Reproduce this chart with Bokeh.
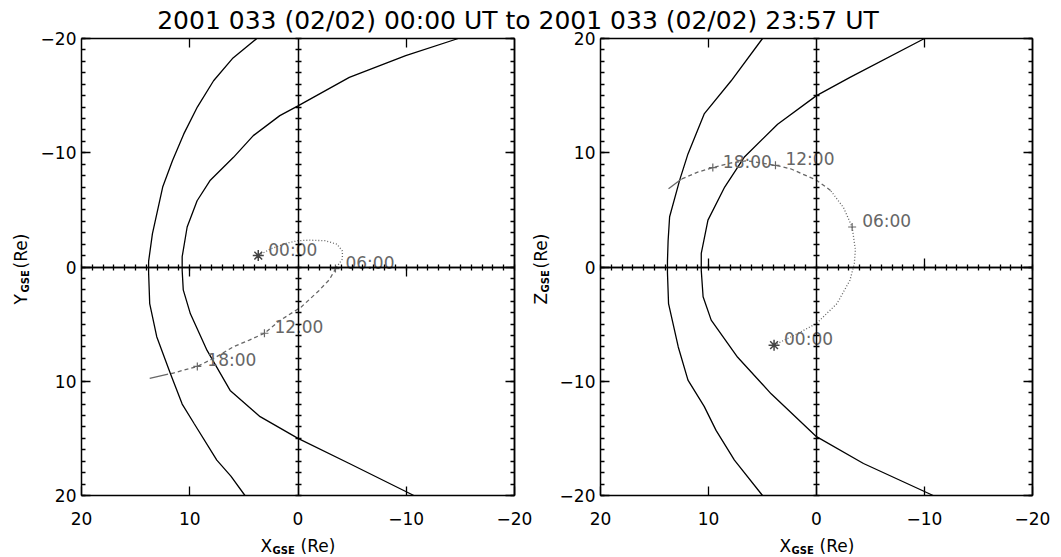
import numpy as np
from bokeh.plotting import figure
from bokeh.models import Range1d, LinearAxis, FixedTicker, Label
from bokeh.layouts import row
from bokeh.core.properties import value
from bokeh.embed import file_html
from bokeh.resources import INLINE

FONT = "DejaVu Sans"
GREY = "#666666"

title_left = "2001 033 (02/02) 00:00 UT to"
title_right = "2001 033 (02/02) 23:57 UT"

major_ticks = [-20, -10, 0, 10, 20]
minor_ticks = list(range(-20, 21))

# X-Y plane (Y grows downward in this panel)
bow_xy_x = [3.8, 6.0, 7.8, 9.3, 10.55, 11.6, 12.5, 13.45, 13.8, 13.8, 13.7, 13.05, 11.8, 10.7, 9.6, 7.5, 6.2, 4.9]
bow_xy_y = [-20, -18.3, -16.3, -14.0, -11.65, -9.3, -7.0, -2.9, -0.5, 0.5, 3.2, 6.1, 9.3, 12.0, 13.7, 16.9, 18.3, 20]
mp_xy_x = [-14.8, -9.95, -4.74, 0.0, 1.68, 4.13, 5.96, 8.1, 9.32, 10.24, 10.7, 10.7, 10.6, 9.94, 8.4, 6.27, 3.5, 0.0, -4.74, -10.7]
mp_xy_y = [-20, -18.5, -16.6, -14.1, -13.25, -11.5, -9.6, -7.6, -5.8, -3.5, -0.9, 0.3, 2.0, 4.1, 7.3, 10.8, 13.1, 15.0, 17.2, 20]
orb_xy_x = [3.67, 2.5, 1.0, 0.0, -1.0, -2.5, -3.6, -4.1, -4.1, -3.5, -2.9, -1.9, -0.3, 1.7, 3.1, 4.5, 6.0, 7.6, 9.3, 11.6, 12.1, 13.7]
orb_xy_y = [-1.0, -1.6, -2.1, -2.3, -2.35, -2.3, -2.0, -1.4, -0.7, 0.1, 1.1, 2.1, 3.5, 4.7, 5.8, 6.4, 7.0, 7.9, 8.7, 9.3, 9.4, 9.75]
orb_xy_breaks = [9, 20]
lab_xy_x = [3.67, -3.46, 3.1, 9.3]
lab_xy_y = [-1.0, 0.14, 5.8, 8.7]

# X-Z plane
bow_xz_x = [5.0, 7.9, 10.4, 11.9, 12.67, 13.6, 13.74, 13.8, 13.8, 13.7, 12.8, 11.9, 10.4, 9.3, 7.6, 5.0]
bow_xz_z = [20, 16.3, 13.4, 9.9, 7.6, 4.4, 2.3, 0.5, -0.5, -3.2, -7.0, -9.9, -12.2, -14.3, -16.9, -20]
mp_xz_x = [-10.0, -3.1, 0.0, 3.6, 6.7, 8.5, 10.05, 10.67, 10.67, 10.5, 9.75, 7.3, 4.2, 0.0, -4.35, -10.8]
mp_xz_z = [20, 16.6, 15.0, 12.5, 9.6, 7.0, 4.1, 1.2, -0.3, -2.6, -4.65, -7.9, -11.1, -14.85, -17.2, -20]
orb_xz_x = [3.93, 1.9, 0.0, -1.9, -3.1, -3.5, -3.6, -3.3, -2.5, -1.3, 0.0, 2.4, 3.8, 6.4, 8.0, 9.6, 11.0, 12.5, 13.7]
orb_xz_z = [-6.84, -5.9, -4.94, -3.2, -1.16, 0.3, 1.5, 3.5, 5.2, 6.7, 7.6, 8.6, 8.9, 9.3, 9.1, 8.7, 8.3, 7.7, 6.85]
orb_xz_breaks = [9, 17]
lab_xz_x = [3.93, -3.3, 3.8, 9.6]
lab_xz_z = [-6.84, 3.5, 8.9, 8.7]

lab_text = ["00:00", "06:00", "12:00", "18:00"]

H = 556
BOX_TOP, BOX_BOTTOM = 38, 495


def span(p0, p1, v0, v1, size):
    # value range over a whole canvas side, given two pixel/value pairs
    k = (v1 - v0) / (p1 - p0)
    return v0 - k * p0, v0 + k * (size - p0)


def box_axis(p, side, loc, ticks, minor, t_in, t_out, labels=False, standoff=5):
    ax = LinearAxis(fixed_location=loc, bounds=(-20, 20),
                    ticker=FixedTicker(ticks=ticks if labels else [],
                                       minor_ticks=minor if labels else ticks),
                    major_tick_in=t_in, major_tick_out=t_out,
                    minor_tick_in=4 if labels else t_in, minor_tick_out=0 if labels else t_out,
                    major_tick_line_width=1.3, minor_tick_line_width=1.3,
                    axis_line_width=1.5, major_label_standoff=standoff,
                    major_label_text_font=FONT, major_label_text_font_size="17px",
                    major_label_text_color="black")
    p.add_layout(ax, side)


def panel(width, box_left, box_right, reversed_y, tick_down):
    x0, x1 = span(box_left, box_right, 20, -20, width)
    top_v, bot_v = (-20, 20) if reversed_y else (20, -20)
    y_top, y_bot = span(BOX_TOP, BOX_BOTTOM, top_v, bot_v, H)
    p = figure(width=width, height=H, x_range=Range1d(x0, x1), y_range=Range1d(y_bot, y_top),
               toolbar_location=None, output_backend="svg", min_border=0,
               x_axis_location=None, y_axis_location=None)
    p.grid.visible = False
    p.outline_line_color = None

    # the plot box
    box_axis(p, "below", bot_v, major_ticks, [], 9, 0, labels=True, standoff=16)
    box_axis(p, "left", 20, major_ticks, minor_ticks, 9, 0, labels=True, standoff=5)
    box_axis(p, "above", top_v, [-10, 10], [], 9, 0)
    box_axis(p, "right", -20, minor_ticks, [], 4, 0)
    box_axis(p, "right", -20, major_ticks, [], 9, 0)

    # cross through the origin
    box_axis(p, "below", 0, minor_ticks, [], 3, 3)
    box_axis(p, "below", 0, [-10, 10], [], 0 if tick_down else 9, 9 if tick_down else 0)
    box_axis(p, "left", 0, minor_ticks, [], 3, 3)
    return p


def label(p, x, y, text, size="17px", bold=False, angle=0.0, align="left"):
    p.add_layout(Label(x=x, y=y, x_units="screen", y_units="screen", text=text,
                       angle=angle, text_align=align, text_baseline="middle",
                       text_font=FONT, text_font_size=size, text_color="black",
                       text_font_style="bold" if bold else "normal"))


def axis_titles(p, box_left, letter, lx):
    label(p, box_left + 179, 11, "X")
    label(p, box_left + 191, 6, "GSE", "10px", True)
    label(p, box_left + 219, 11, "(Re)")
    label(p, lx, 252, letter, angle=np.pi / 2)
    label(p, lx + 5, 264, "GSE", "10px", True, angle=np.pi / 2)
    label(p, lx, 288, "(Re)", angle=np.pi / 2)


def draw(p, bx, by, mx, my, ox, oy, breaks, lx, ly):
    p.line(bx, by, color="black", line_width=1.3)
    p.line(mx, my, color="black", line_width=1.3)
    a, b = breaks
    p.line(ox[:a + 1], oy[:a + 1], color=GREY, line_width=1.3, line_dash="1 2")
    p.line(ox[a:b + 1], oy[a:b + 1], color=GREY, line_width=1.3, line_dash="4 3")
    p.line(ox[b:], oy[b:], color=GREY, line_width=1.3)
    p.scatter(ox[:1], oy[:1], marker="asterisk", size=11, line_color="#444444", line_width=1.5)
    p.scatter(lx[1:], ly[1:], marker="cross", size=8, line_color=GREY, line_width=1.2)
    p.text(lx, ly, text=lab_text, x_offset=10, y_offset=-6, text_font=value(FONT),
           text_font_size="17px", text_color=GREY, text_baseline="middle", text_align="left")


p1 = panel(532, 81, 514, True, True)
draw(p1, bow_xy_x, bow_xy_y, mp_xy_x, mp_xy_y, orb_xy_x, orb_xy_y, orb_xy_breaks, lab_xy_x, lab_xy_y)
axis_titles(p1, 81, "Y", 20)
label(p1, 530, H - 20, title_left, "25px", align="right")

p2 = panel(529, 68, 500, False, False)
draw(p2, bow_xz_x, bow_xz_z, mp_xz_x, mp_xz_z, orb_xz_x, orb_xz_z, orb_xz_breaks, lab_xz_x, lab_xz_z)
axis_titles(p2, 68, "Z", 8)
label(p2, 6, H - 20, title_right, "25px")

layout = row(p1, p2)
open("out.html", "w").write(file_html(layout, INLINE))
